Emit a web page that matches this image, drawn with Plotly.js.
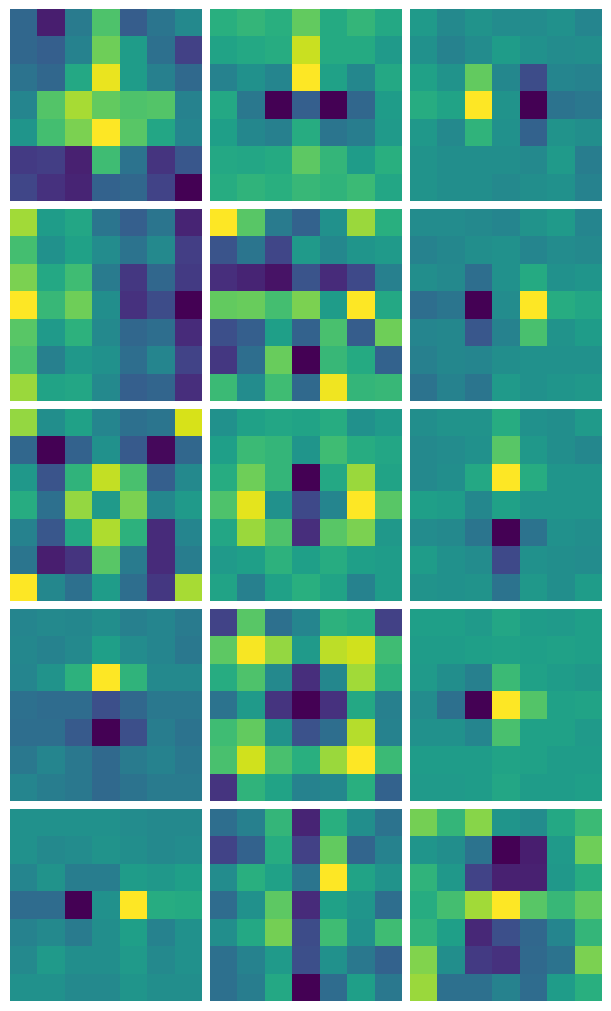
<!DOCTYPE html>
<html><head><meta charset="utf-8">
<script src="https://cdn.plot.ly/plotly-3.0.1.min.js"></script>
<style>html,body{margin:0;padding:0;background:#fff}</style></head>
<body><div id="chart" style="width:611px;height:1011px"></div>
<script>
const p11=[[33,8,41,72,29,39,47],[33,30,44,78,55,37,19],[38,33,60,97,55,43,34],[45,73,87,76,72,73,44],[52,70,80,100,74,59,45],[17,18,9,69,38,15,27],[21,14,10,31,33,20,0]];
const p12=[[63,66,63,76,61,66,60],[58,60,62,92,61,61,54],[44,50,45,100,57,46,60],[60,40,0,30,0,33,55],[56,46,43,62,39,42,54],[60,59,61,75,66,55,63],[62,65,63,67,65,68,59]];
const p13=[[54,47,51,48,48,50,45],[50,44,48,55,50,48,49],[57,51,76,46,23,45,44],[62,58,100,51,0,38,40],[53,47,65,50,31,51,49],[51,49,49,49,47,54,42],[51,49,49,47,49,50,44]];
const p21=[[86,55,59,39,30,39,10],[70,50,57,48,38,47,18],[80,60,69,41,16,33,17],[100,67,78,49,14,23,0],[74,54,64,47,33,36,12],[71,43,53,50,36,45,20],[85,58,59,47,30,32,13]];
const p22=[[100,74,41,31,50,85,63],[26,39,21,54,46,52,54],[13,10,5,26,12,22,43],[76,77,70,80,55,100,60],[24,30,56,31,71,29,78],[16,36,77,0,67,61,31],[68,48,69,34,98,66,67]];
const p23=[[48,48,47,45,51,54,45],[44,46,49,50,45,48,47],[49,47,36,50,61,50,52],[36,39,0,48,100,62,59],[45,46,27,44,71,51,55],[43,46,45,49,50,50,50],[38,44,39,54,50,52,53]];
const p31=[[84,49,57,45,37,39,94],[33,0,31,50,28,2,33],[53,26,65,91,71,30,47],[62,37,84,54,80,46,54],[44,27,60,88,64,12,45],[39,8,15,74,41,12,42],[100,46,37,55,36,16,87]];
const p32=[[50,57,59,58,62,50,54],[56,68,66,52,69,62,59],[62,78,66,0,60,85,58],[72,96,50,22,45,100,74],[59,85,72,13,74,80,53],[54,56,64,56,62,56,55],[58,43,57,63,58,44,55]];
const p33=[[49,51,51,62,50,49,54],[47,48,50,74,53,49,46],[47,49,60,100,62,52,52],[56,55,46,57,52,52,52],[48,47,39,0,38,50,49],[55,50,48,22,50,49,48],[51,50,51,38,53,49,55]];
const p41=[[45,47,46,49,43,45,41],[46,44,47,56,48,45,40],[45,51,64,100,65,47,47],[37,35,35,24,33,40,40],[36,36,28,0,24,42,38],[40,45,40,34,41,44,40],[45,42,40,34,38,41,41]];
const p42=[[20,74,37,45,64,62,19],[75,99,84,54,90,93,69],[62,72,47,13,46,86,64],[38,54,15,0,14,60,43],[69,76,51,25,36,89,44],[71,93,71,63,85,100,68],[15,65,58,44,46,63,31]];
const p43=[[56,56,54,59,55,54,56],[55,55,56,57,56,57,56],[54,49,43,68,57,55,53],[48,37,0,100,73,57,58],[50,50,45,71,57,57,54],[55,55,55,58,57,55,55],[54,54,55,59,55,55,56]];
const p51=[[50,50,50,50,48,47,47],[50,47,48,51,49,47,48],[45,51,42,42,55,53,56],[35,35,0,50,100,62,61],[44,47,41,49,56,44,50],[47,54,49,49,54,47,50],[50,50,47,47,52,49,49]];
const p52=[[36,43,66,10,63,49,38],[20,31,62,19,76,32,44],[48,63,57,39,100,58,51],[35,50,75,12,57,52,36],[49,60,79,23,69,50,69],[37,44,54,24,50,40,31],[37,42,60,0,35,56,40]];
const p53=[[79,66,82,52,48,60,68],[52,49,38,0,8,54,78],[65,53,20,9,9,53,62],[62,70,86,100,74,67,76],[65,56,11,24,33,45,66],[81,49,17,14,34,38,80],[85,37,37,44,35,55,63]];

const panels=[p11,p12,p13,p21,p22,p23,p31,p32,p33,p41,p42,p43,p51,p52,p53];
const W=611,H=1011;
const lefts=[10,210,410], tops=[9,209,409,609,809], size=192;
const traces=[], layout={width:W,height:H,margin:{l:0,r:0,t:0,b:0},paper_bgcolor:'#fff',plot_bgcolor:'#fff',showlegend:false};
panels.forEach((z,i)=>{
  const n=i+1, c=i%3, r=Math.floor(i/3), s=n===1?'':String(n);
  traces.push({type:'heatmap',z:z,xaxis:'x'+s,yaxis:'y'+s,colorscale:'Viridis',zmin:0,zmax:100,showscale:false,zsmooth:false,xgap:0,ygap:0,hoverinfo:'z'});
  layout['xaxis'+s]={domain:[lefts[c]/W,(lefts[c]+size)/W],anchor:'y'+s,visible:false,showgrid:false,zeroline:false,fixedrange:true};
  layout['yaxis'+s]={domain:[1-(tops[r]+size)/H,1-tops[r]/H],anchor:'x'+s,visible:false,showgrid:false,zeroline:false,autorange:'reversed',fixedrange:true};
});
Plotly.newPlot('chart',traces,layout,{displayModeBar:false,staticPlot:true});
</script></body></html>
